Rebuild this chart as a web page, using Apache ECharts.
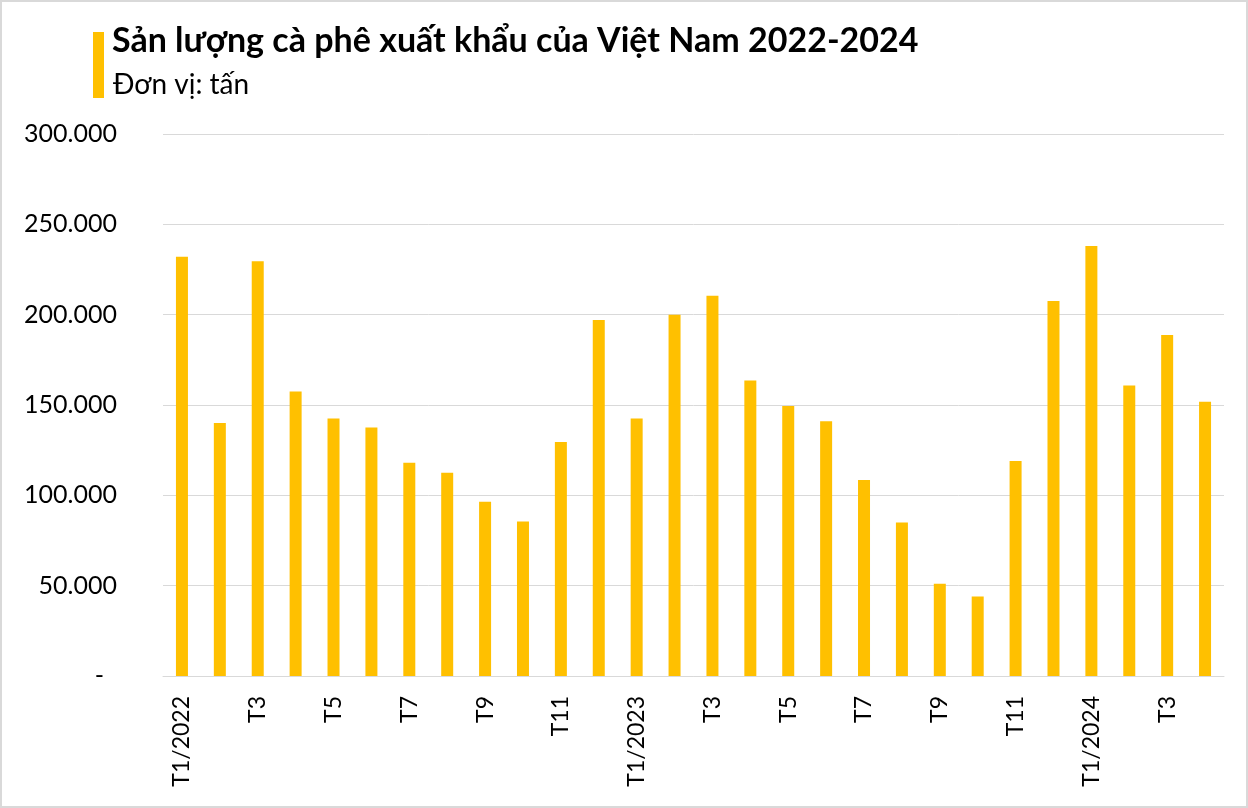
<!DOCTYPE html>
<html>
<head>
<meta charset="utf-8">
<script src="https://cdn.jsdelivr.net/npm/echarts@6/dist/echarts.min.js"></script>
<style>
    html, body { margin: 0; padding: 0; background: #fff; }
    #chart { width: 1248px; height: 808px; box-sizing: border-box; border: 2px solid #d9d9d9; }
</style>
</head>
<body>
<div id="chart"></div>
<script>
// Sản lượng cà phê xuất khẩu theo tháng (tấn)
var months = [
    'T1/2022', 'T2', 'T3', 'T4', 'T5', 'T6', 'T7', 'T8', 'T9', 'T10', 'T11', 'T12',
    'T1/2023', 'T2', 'T3', 'T4', 'T5', 'T6', 'T7', 'T8', 'T9', 'T10', 'T11', 'T12',
    'T1/2024', 'T2', 'T3', 'T4'
];
var exportVolume = [
    232000, 140000, 229500, 157500, 142500, 137500, 118000, 112500, 96500, 85500, 129500, 197000,
    142500, 200000, 210500, 163500, 149500, 141000, 108500, 85000, 51000, 44000, 119000, 207500,
    238000, 160800, 188800, 151800
];
var yTicks = { min: 0, max: 300000, interval: 50000 };

var chart = echarts.init(document.getElementById('chart'));
var font = 'Lato, "Noto Sans", sans-serif';

function formatTick(v) {
    if (v === 0) return '{dash|-}';
    return v.toString().replace(/\B(?=(\d{3})+(?!\d))/g, '.');
}

var option = {
    animation: false,
    graphic: [
        { type: 'rect', left: 91, top: 30, shape: { width: 11, height: 66 }, style: { fill: '#FFC000' } },
        { type: 'text', left: 110, top: 22, style: { text: 'Sản lượng cà phê xuất khẩu của Việt Nam 2022-2024', font: 'bold 34px ' + font, fill: '#000' } },
        { type: 'text', left: 111, top: 69, style: { text: 'Đơn vị: tấn', font: '28px ' + font, fill: '#000' } }
    ],
    grid: { left: 161, right: 22, top: 132, bottom: 130 },
    xAxis: {
        type: 'category',
        data: months,
        axisTick: { show: false },
        axisLine: { lineStyle: { color: '#d9d9d9', width: 1 } },
        axisLabel: {
            interval: 1,
            rotate: 90,
            margin: 20,
            fontSize: 23,
            fontFamily: font,
            color: '#000'
        }
    },
    yAxis: {
        type: 'value',
        min: yTicks.min,
        max: yTicks.max,
        interval: yTicks.interval,
        axisLine: { show: false },
        axisTick: { show: false },
        splitLine: { lineStyle: { color: '#d9d9d9', width: 1 } },
        axisLabel: {
            formatter: formatTick,
            margin: 46,
            fontSize: 25,
            fontFamily: font,
            color: '#000',
            rich: {
                dash: { fontSize: 25, fontFamily: font, color: '#000', padding: [0, 13, 0, 0] }
            }
        }
    },
    series: [{
        type: 'bar',
        data: exportVolume,
        barWidth: 12,
        itemStyle: { color: '#FFC000' }
    }]
};

chart.setOption(option);
</script>
</body>
</html>
